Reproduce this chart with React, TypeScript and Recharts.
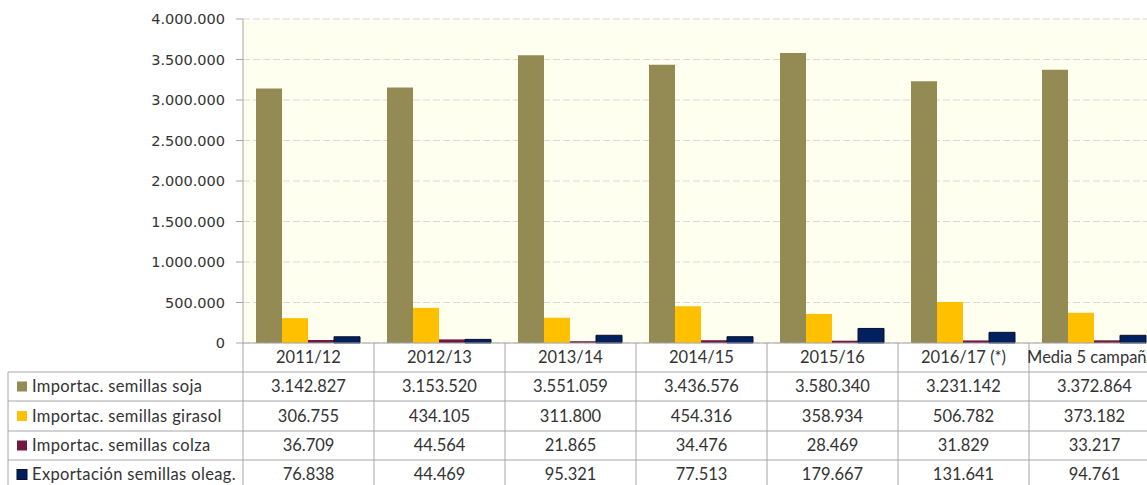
import React from 'react';
import { BarChart, Bar, XAxis, YAxis, CartesianGrid } from 'recharts';

const categories = ['2011/12', '2012/13', '2013/14', '2014/15', '2015/16', '2016/17 (*)', 'Media 5 campañas'];
const soja = [3142827, 3153520, 3551059, 3436576, 3580340, 3231142, 3372864];
const girasol = [306755, 434105, 311800, 454316, 358934, 506782, 373182];
const colza = [36709, 44564, 21865, 34476, 28469, 31829, 33217];
const exportacion = [76838, 44469, 95321, 77513, 179667, 131641, 94761];
const seriesNames = [
  'Importac. semillas soja',
  'Importac. semillas girasol',
  'Importac. semillas colza',
  'Exportación semillas oleag.',
];
const seriesKeys = ['soja', 'girasol', 'colza', 'exportacion'];
const seriesColors = ['#948A54', '#FFC000', '#721841', '#002060'];
const seriesStrokes = ['none', 'none', 'none', '#0a0f26'];
const yTicks = [0, 500000, 1000000, 1500000, 2000000, 2500000, 3000000, 3500000, 4000000];

const seriesValues = [soja, girasol, colza, exportacion];
const data = categories.map((c, i) => ({
  category: c,
  soja: soja[i],
  girasol: girasol[i],
  colza: colza[i],
  exportacion: exportacion[i],
}));

const fmt = (n: number) => String(n).replace(/\B(?=(\d{3})+(?!\d))/g, '.');

// layout constants
const CHART_W = 1160;
const CHART_H = 485;
const PLOT_LEFT = 243;
const PLOT_TOP = 19;
const X_AXIS_H = 142;
const PLOT_BOTTOM = CHART_H - X_AXIS_H;
const BAND = (CHART_W - PLOT_LEFT) / categories.length;
const ROW_LINES = [372, 401, 431, 460, 489];
const HEADER_MID = (PLOT_BOTTOM + ROW_LINES[0]) / 2;
const LEGEND_LEFT = 8;
const GRID_COLOR = '#A6A6A6';
const TEXT_COLOR = '#333333';
const TABLE_FONT = 'Lato, "Open Sans", sans-serif';
const TABLE_SIZE = 16.5;

const TableTick = (props: any) => {
  const { x, index, payload } = props;
  const left = x - BAND / 2;
  const right = x + BAND / 2;
  const els: React.ReactNode[] = [];
  els.push(<line key="vr" x1={right} x2={right} y1={PLOT_BOTTOM} y2={CHART_H + 5} stroke={GRID_COLOR} strokeWidth={1} />);
  if (index === 0) {
    els.push(<line key="vl" x1={left} x2={left} y1={PLOT_BOTTOM} y2={CHART_H + 5} stroke={GRID_COLOR} strokeWidth={1} />);
    els.push(<line key="lgl" x1={LEGEND_LEFT} x2={LEGEND_LEFT} y1={ROW_LINES[0]} y2={CHART_H + 5} stroke={GRID_COLOR} strokeWidth={1} />);
    ROW_LINES.forEach((ry, r) =>
      els.push(<line key={'lh' + r} x1={LEGEND_LEFT} x2={left} y1={ry} y2={ry} stroke={GRID_COLOR} strokeWidth={1} />)
    );
    seriesNames.forEach((name, r) => {
      const cy = (ROW_LINES[r] + ROW_LINES[r + 1]) / 2;
      els.push(
        <rect key={'ls' + r} x={17} y={cy - 5} width={10} height={10} fill={seriesColors[r]}
          stroke={seriesStrokes[r] === 'none' ? 'none' : seriesStrokes[r]} strokeWidth={seriesStrokes[r] === 'none' ? 0 : 1} />
      );
      els.push(
        <text key={'lt' + r} x={32} y={cy} dy="0.36em" fontSize={TABLE_SIZE} letterSpacing={0.35} fontFamily={TABLE_FONT} fill={TEXT_COLOR}>
          {name}
        </text>
      );
    });
  }
  ROW_LINES.forEach((ry, r) =>
    els.push(<line key={'h' + r} x1={left} x2={right} y1={ry} y2={ry} stroke={GRID_COLOR} strokeWidth={1} />)
  );
  els.push(
    <text key="hdr" x={x} y={HEADER_MID} dy="0.36em" textAnchor="middle" fontSize={TABLE_SIZE} fontFamily={TABLE_FONT} fill={TEXT_COLOR}>
      {payload.value}
    </text>
  );
  seriesValues.forEach((vals, r) => {
    const cy = (ROW_LINES[r] + ROW_LINES[r + 1]) / 2;
    els.push(
      <text key={'v' + r} x={x} y={cy} dy="0.36em" textAnchor="middle" fontSize={TABLE_SIZE} fontFamily={TABLE_FONT} fill={TEXT_COLOR}>
        {fmt(vals[index])}
      </text>
    );
  });
  return <g>{els}</g>;
};

export default function App() {
  return (
    <div style={{ position: 'absolute', left: 0, top: 0, width: 1147, height: 485, overflow: 'hidden', background: '#fff' }}>
      <BarChart
        width={CHART_W}
        height={CHART_H}
        data={data}
        margin={{ top: PLOT_TOP, right: 0, bottom: 0, left: 0 }}
        barCategoryGap={13}
        barGap={0}
      >
        <CartesianGrid vertical={false} stroke="#D9D9D9" strokeDasharray="7 3" fill="#FFFFF0" fillOpacity={1} />
        <XAxis
          dataKey="category"
          interval={0}
          height={X_AXIS_H}
          tickLine={false}
          axisLine={{ stroke: GRID_COLOR }}
          tick={<TableTick />}
        />
        <YAxis
          width={PLOT_LEFT}
          domain={[0, 4000000]}
          ticks={yTicks}
          tickFormatter={fmt}
          axisLine={{ stroke: GRID_COLOR }}
          tickLine={{ stroke: GRID_COLOR }}
          tickSize={7}
          tickMargin={11}
          tick={{ fontFamily: '"DejaVu Sans", Verdana, sans-serif', fontSize: 14.5, fill: '#333333' }}
        />
        {seriesKeys.map((k, i) => (
          <Bar
            key={k}
            dataKey={k}
            name={seriesNames[i]}
            fill={seriesColors[i]}
            stroke={seriesStrokes[i] === 'none' ? undefined : seriesStrokes[i]}
            strokeWidth={seriesStrokes[i] === 'none' ? 0 : 1}
            isAnimationActive={false}
          />
        ))}
      </BarChart>
    </div>
  );
}
